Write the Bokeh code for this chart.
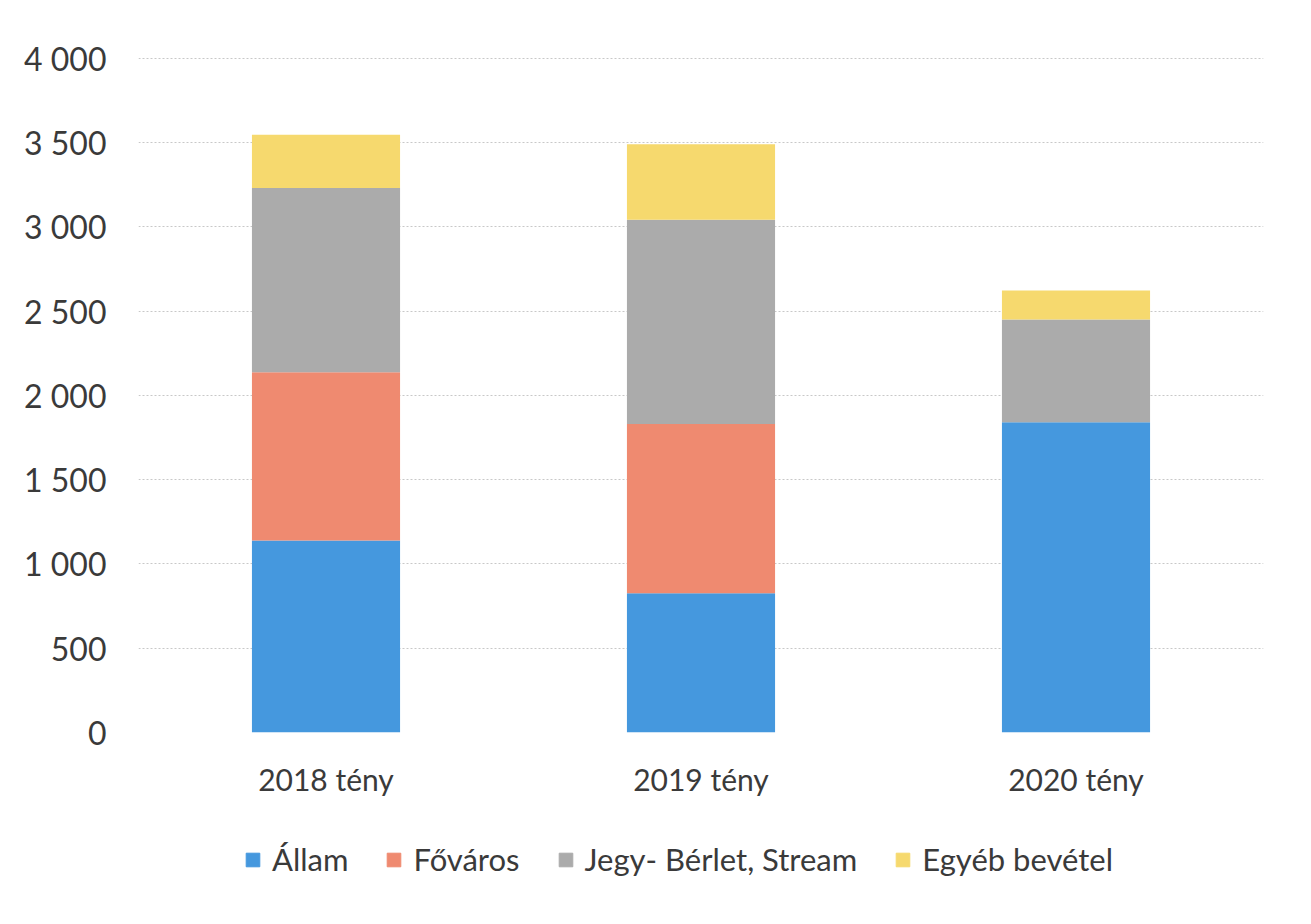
from bokeh.plotting import figure
from bokeh.layouts import column
from bokeh.models import FactorRange, Range1d, Legend, LegendItem, FixedTicker, CustomJSTickFormatter
from bokeh.embed import file_html
from bokeh.resources import INLINE

categories = ["2018 tény", "2019 tény", "2020 tény"]
series = ["Állam", "Főváros", "Jegy- Bérlet, Stream", "Egyéb bevétel"]
allam = [1139, 826, 1841]
fovaros = [998, 1004, 0]
jegy = [1093, 1213, 609]
egyeb = [317, 448, 172]
y_ticks = [0, 500, 1000, 1500, 2000, 2500, 3000, 3500, 4000]
colors = ["#4598de", "#ef8a70", "#ababab", "#f6d96e"]

FONT = "Lato"
TXT = "#3a3a3a"

data = {"cat": categories, "a": allam, "f": fovaros, "j": jegy, "e": egyeb}

p = figure(x_range=FactorRange(factors=categories, range_padding=0),
           y_range=Range1d(0, 4005), frame_width=1125, frame_height=675,
           output_backend="svg", toolbar_location=None,
           min_border_left=138, min_border_right=40, min_border_top=57, min_border_bottom=100)

rs = p.vbar_stack(["a", "f", "j", "e"], x="cat", width=0.395, color=colors,
                  source=data, line_width=0)

p.outline_line_color = None
p.xgrid.grid_line_color = None
p.ygrid.grid_line_color = "#c8c8c8"
p.ygrid.grid_line_dash = "2 2"
p.ygrid.grid_line_width = 1
p.ygrid.ticker = FixedTicker(ticks=y_ticks)

p.yaxis.ticker = FixedTicker(ticks=y_ticks)
p.yaxis.formatter = CustomJSTickFormatter(code="""
  const s = Math.round(tick).toString();
  return s.replace(/\\B(?=(\\d{3})+(?!\\d))/g, ' ');
""")
for ax in (p.xaxis, p.yaxis):
    ax.axis_line_color = None
    ax.major_tick_line_color = None
    ax.minor_tick_line_color = None
    ax.major_label_text_font = FONT
    ax.major_label_text_color = TXT
    ax.major_label_text_font_size = "32px"
p.yaxis.major_label_standoff = 26
p.xaxis.major_label_standoff = 22
p.xaxis.major_label_text_font_size = "30px"

# legend strip below the chart (swatches are off-range placeholders)
p2 = figure(x_range=Range1d(0, 1), y_range=Range1d(0, 1), width=1303, height=80,
            output_backend="svg", toolbar_location=None,
            min_border_left=0, min_border_right=0, min_border_top=0, min_border_bottom=0)
p2.axis.visible = False
p2.grid.visible = False
p2.outline_line_color = None
dummies = [p2.vbar(x=[-5], top=[-5], bottom=[-6], width=0.1, fill_color=c, line_color=c)
           for c in colors]

items = [LegendItem(label=s, renderers=[r]) for s, r in zip(series, dummies)]
legend = Legend(items=items, orientation="horizontal", location=(106, 34),
                glyph_width=17, glyph_height=17, label_standoff=11, spacing=37,
                padding=0, margin=0, border_line_color=None, background_fill_alpha=0,
                label_text_font=FONT, label_text_font_size="31px", label_text_color=TXT)
p2.add_layout(legend, "center")

layout = column(p, p2, spacing=0)
open("out.html", "w").write(file_html(layout, INLINE))
